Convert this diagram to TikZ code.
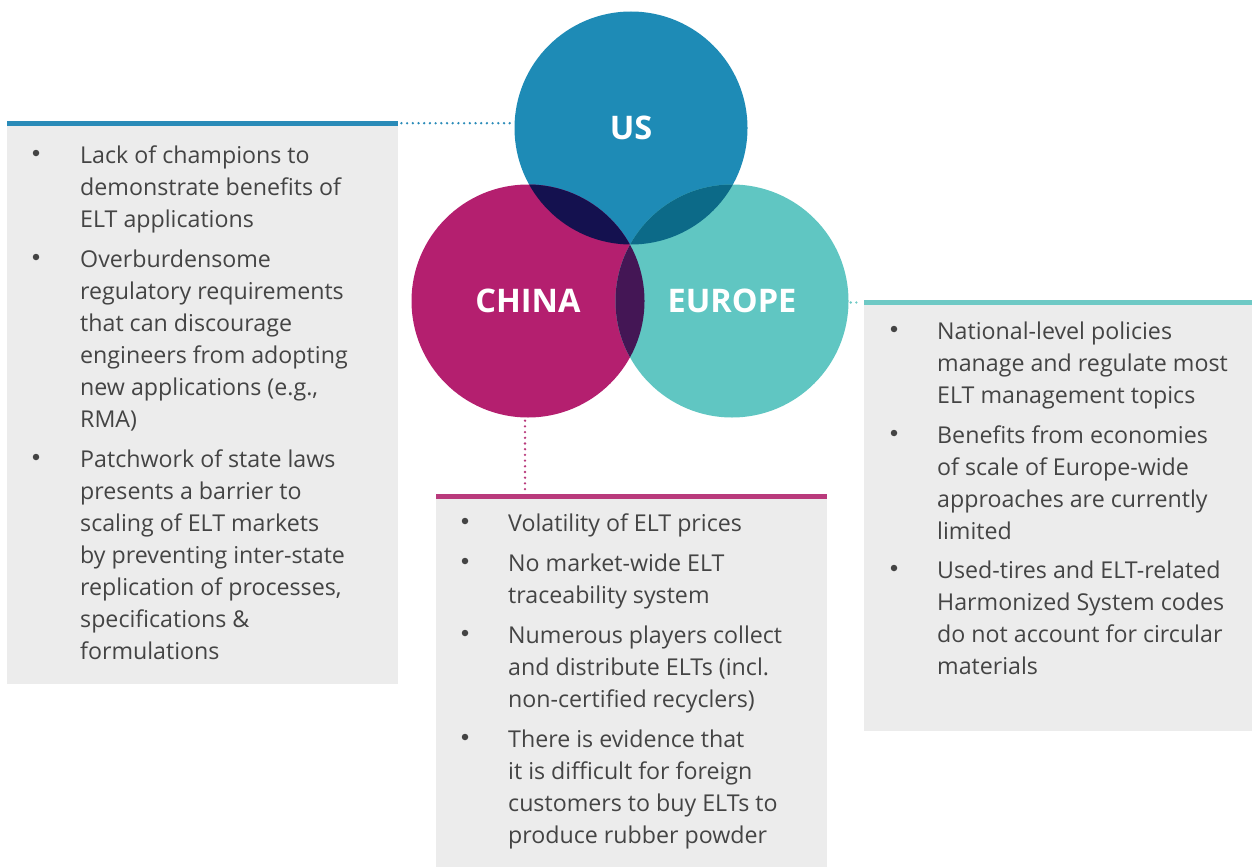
\documentclass[tikz,border=0pt]{standalone}
\usepackage{fontspec}
\setmainfont{Open Sans}
\usetikzlibrary{calc}

\definecolor{usblue}{HTML}{1E8BB6}
\definecolor{chinamag}{HTML}{B41F6F}
\definecolor{euteal}{HTML}{60C6C2}
\definecolor{uschina}{HTML}{14114F}
\definecolor{useu}{HTML}{0C6A88}
\definecolor{chinaeu}{HTML}{441655}
\definecolor{usbar}{HTML}{2A8BB8}
\definecolor{chinabar}{HTML}{B93A7C}
\definecolor{eubar}{HTML}{6EC9C5}
\definecolor{panelgray}{HTML}{ECECEC}
\definecolor{bodytext}{HTML}{444444}

% one bullet item: name, bullet x, text x, first baseline y, lines
\newcommand\bulletitem[5]{%
  \node[bul] (#1) at (#2,#4-10) {};
  \foreach \t [count=\i from 0] in {#5}
    \node[line] (#1-\i) at (#3,#4+32*\i) {\t};
}

\begin{document}
\begin{tikzpicture}[x=1pt,y=-1pt,
  circ/.style={circle,minimum size=233pt,inner sep=0pt,text=white,
    font=\fontsize{32.5}{33}\selectfont\bfseries},
  panel/.style={fill=panelgray,inner sep=0pt,anchor=north west},
  line/.style={anchor=base west,inner sep=0pt,text=bodytext,
    font=\fontsize{23.2}{32}\selectfont},
  dotlink/.style={line width=2.6pt,dash pattern=on 0pt off 5.7pt,line cap=round},
  bul/.style={circle,fill=bodytext,inner sep=0pt,minimum size=6.5pt}]

\useasboundingbox (0,0) rectangle (1252,867);

% panels with coloured top bars
\node[panel,minimum width=391pt,minimum height=563pt] (lpanel) at (7,121) {};
\fill[usbar] (lpanel.north west) rectangle ($(lpanel.north east)+(0,4.5)$);
\node[panel,minimum width=391pt,minimum height=373pt] (bpanel) at (436,494) {};
\fill[chinabar] (bpanel.north west) rectangle ($(bpanel.north east)+(0,4.5)$);
\node[panel,minimum width=388pt,minimum height=431pt] (rpanel) at (864,300) {};
\fill[eubar] (rpanel.north west) rectangle ($(rpanel.north east)+(0,5)$);

% circles
\node[circ,fill=usblue] (us) at (631,128) {US};
\node[circ,fill=chinamag] (china) at (528,301) {CHINA};
\node[circ,fill=euteal] (europe) at (732,301) {EUROPE};

% overlaps
\begin{scope}
  \clip (us.center) circle[radius=116.5pt];
  \fill[uschina] (china.center) circle[radius=116.5pt];
  \fill[useu] (europe.center) circle[radius=116.5pt];
\end{scope}
\begin{scope}
  \clip (china.center) circle[radius=116.5pt];
  \fill[chinaeu] (europe.center) circle[radius=116.5pt];
\end{scope}

% dotted connectors
\draw[dotlink,usbar] ($(lpanel.north east)+(3,2.2)$) -- ($(lpanel.north east -| us.west)+(0,2.2)$);
\draw[dotlink,eubar] ($(europe.east |- rpanel.north west)+(2,2.5)$) -- ($(rpanel.north west)+(-2,2.5)$);
\draw[dotlink,chinabar] ($(china.south)+(-3,3)$) -- ($(china.south |- bpanel.north)+(-3,-3)$);

% US panel
\bulletitem{u1}{36}{80}{163}{Lack of champions to, demonstrate benefits of, ELT applications}
\bulletitem{u2}{36}{80}{267}{Overburdensome, regulatory requirements, that can discourage, engineers from adopting, {new applications (e.g.,}, RMA)}
\bulletitem{u3}{36}{80}{467}{Patchwork of state laws, presents a barrier to, scaling of ELT markets, by preventing inter-state, {replication of processes,}, specifications \&, formulations}

% China panel
\bulletitem{c1}{465}{508}{531}{Volatility of ELT prices}
\bulletitem{c2}{465}{508}{571}{No market-wide ELT, traceability system}
\bulletitem{c3}{465}{508}{643}{Numerous players collect, and distribute ELTs (incl., non-certified recyclers)}
\bulletitem{c4}{465}{508}{747}{There is evidence that, it is difficult for foreign, customers to buy ELTs to, produce rubber powder}

% Europe panel
\bulletitem{e1}{894}{937}{339}{National-level policies, manage and regulate most, ELT management topics}
\bulletitem{e2}{894}{937}{443}{Benefits from economies, of scale of Europe-wide, approaches are currently, limited}
\bulletitem{e3}{894}{937}{578}{Used-tires and ELT-related, Harmonized System codes, do not account for circular, materials}

\end{tikzpicture}
\end{document}
